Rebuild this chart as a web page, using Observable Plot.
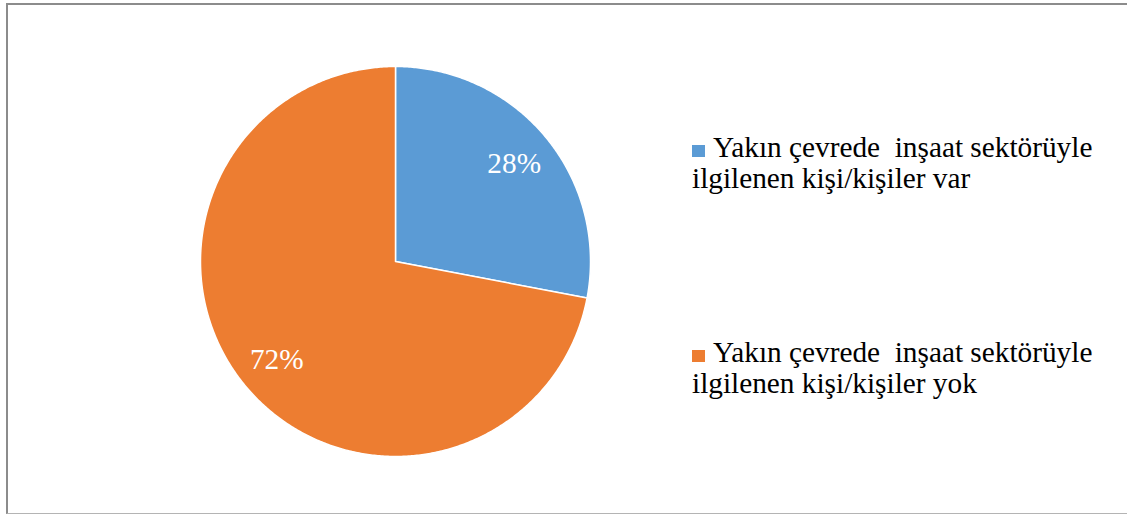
<!DOCTYPE html>
<html>
<head>
<meta charset="utf-8">
<script src="https://cdn.jsdelivr.net/npm/d3@7"></script>
<script src="https://cdn.jsdelivr.net/npm/@observablehq/plot@0.6"></script>
<style>
  html, body { margin: 0; padding: 0; background: #fff; }
  #wrap { position: relative; width: 1127px; height: 517px; overflow: hidden; }
  #frame { position: absolute; left: 6px; top: 3px; width: 1200px; height: 511px;
           border-left: 2px solid #8c8c8c; border-top: 2px solid #8c8c8c; border-bottom: 1px solid #b4b4b4; box-sizing: border-box; }
  #chart { position: absolute; left: 0; top: 0; }
  .leg { position: absolute; left: 692px; width: 430px; font-family: "Liberation Serif", "Times New Roman", serif;
         font-size: 29.3px; line-height: 31px; color: #000; white-space: pre; }
  .leg .sw { display: inline-block; width: 13px; height: 12px; margin-right: 8px; vertical-align: 0px; }
</style>
</head>
<body>
<div id="wrap">
  <div id="frame"></div>
  <div id="chart"></div>
</div>
<script>
const categories = ["Yakın çevrede  inşaat sektörüyle\nilgilenen kişi/kişiler var",
                    "Yakın çevrede  inşaat sektörüyle\nilgilenen kişi/kişiler yok"];
const values = [28, 72];
const labels = ["28%", "72%"];
const colors = ["#5B9BD5", "#ED7D31"];

const arcs = d3.pie().sort(null).value(d => d)(values);

// slice outlines in unit-circle coordinates (angle measured clockwise from top)
const poly = [];
arcs.forEach((a, i) => {
  poly.push({slice: i, x: 0, y: 0, c: colors[i]});
  const n = Math.max(2, Math.ceil((a.endAngle - a.startAngle) / (Math.PI / 360)));
  for (let k = 0; k <= n; k++) {
    const t = a.startAngle + (a.endAngle - a.startAngle) * k / n;
    poly.push({slice: i, x: Math.sin(t), y: Math.cos(t), c: colors[i]});
  }
  poly.push({slice: i, x: 0, y: 0, c: colors[i]});
});

const labelPts = arcs.map((a, i) => {
  const m = (a.startAngle + a.endAngle) / 2;
  return {x: 0.79 * Math.sin(m), y: 0.79 * Math.cos(m), t: labels[i]};
});

const chart = Plot.plot({
  width: 1127,
  height: 517,
  margin: 0,
  x: {domain: [-1, 1], range: [200, 590], axis: null},
  y: {domain: [-1, 1], range: [456, 66], axis: null},
  marks: [
    Plot.line(poly, {x: "x", y: "y", z: "slice", fill: "c", stroke: "white", strokeWidth: 1.5, curve: "linear"}),
    Plot.text(labelPts, {x: "x", y: "y", text: "t", fill: "white", fontSize: 29.3,
      fontFamily: "Liberation Serif"})
  ],
  style: {background: "transparent", overflow: "visible", fontFamily: "Liberation Serif, serif"}
});
chart.querySelectorAll("text").forEach(t => t.style.fontFamily = "'Liberation Serif', 'Times New Roman', serif");
document.getElementById("chart").appendChild(chart);

const wrap = document.getElementById("wrap");
const tops = [132, 337];
categories.forEach((c, i) => {
  const d = document.createElement("div");
  d.className = "leg";
  d.style.top = tops[i] + "px";
  const sw = document.createElement("span");
  sw.className = "sw";
  sw.style.background = colors[i];
  d.appendChild(sw);
  d.appendChild(document.createTextNode(c));
  wrap.appendChild(d);
});
</script>
</body>
</html>
